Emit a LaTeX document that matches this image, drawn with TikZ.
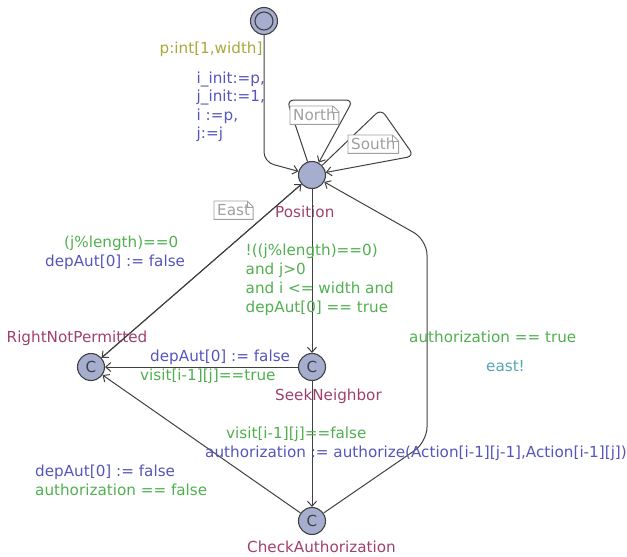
\documentclass[tikz,border=0pt]{standalone}
\usepackage{fontspec}
\setmainfont{DejaVu Sans}
\usetikzlibrary{arrows.meta}
\definecolor{guardc}{HTML}{50B050}
\definecolor{assignc}{HTML}{5555BB}
\definecolor{namec}{HTML}{A0406E}
\definecolor{selectc}{HTML}{A8A83A}
\definecolor{syncc}{HTML}{55A5B5}
\definecolor{notec}{HTML}{A0A0A0}
\definecolor{locfill}{HTML}{A6AED0}
\definecolor{linec}{HTML}{404040}
\newcommand{\drawnote}[1]{%
  \draw[notec, line width=0.9pt] (#1.south west) -- (#1.north west) -- ([xshift=-6pt]#1.north east)
    -- ([yshift=-6pt]#1.north east) -- (#1.south east) -- cycle;
  \draw[notec, line width=0.9pt] ([xshift=-6pt]#1.north east) -- ([xshift=-6pt,yshift=-6pt]#1.north east)
    -- ([yshift=-6pt]#1.north east);}
\begin{document}
\begin{tikzpicture}[x=1pt,y=-1pt,
  font=\fontsize{15.2}{19}\selectfont,
  loc/.style={circle,draw=linec,fill=locfill,text=linec,line width=1.1pt,minimum size=27pt,inner sep=0pt},
  edge/.style={draw=linec,line width=1pt,-{Straight Barb[length=5pt,width=9pt,line width=1pt]}},
  lbl/.style={anchor=base west,inner sep=0pt},
  guard/.style={lbl,text=guardc},
  assign/.style={lbl,text=assignc},
  lname/.style={lbl,text=namec},
  note/.style={text=notec,fill=white,inner xsep=3pt,inner ysep=2pt,minimum height=18pt,anchor=north west}]
\useasboundingbox (0,0) rectangle (627,557);

% locations
\node[loc] (init) at (264,21) {};
\node[circle,draw=linec,line width=1.1pt,minimum size=18pt,inner sep=0pt] (initin) at (264,21) {};
\node[loc] (pos) at (312,175) {};
\node[loc] (rnp) at (91,367) {C};
\node[loc] (seek) at (312,367) {C};
\node[loc] (cauth) at (312,521) {C};

% location names
\node[lname] (nPos) at (275,217) {Position};
\node[lname] (nRnp) at (6.5,342) {RightNotPermitted};
\node[lname] (nSeek) at (275,400) {SeekNeighbor};
\node[lname] (nCauth) at (247,552) {CheckAuthorization};

% bend points
\coordinate (b1) at (264,162);
\coordinate (n1) at (287,100);
\coordinate (n2) at (353,100);
\coordinate (s1) at (381,109);
\coordinate (s2) at (414,156);
\coordinate (c1) at (427,442);
\coordinate (c2) at (427,240);

% edges
\draw[edge,rounded corners=10pt] (init) -- (b1) -- (pos);
\draw[edge,rounded corners=7pt] (pos) -- (n1) -- (n2) -- (pos);
\draw[edge,rounded corners=7pt] (pos) -- (s1) -- (s2) -- (pos);
\draw[edge] (pos) -- (rnp);
\draw[edge] (rnp) -- (pos);
\draw[edge] (pos) -- (seek);
\draw[edge] (seek) -- (rnp);
\draw[edge] (seek) -- (cauth);
\draw[edge] (cauth) -- (rnp);
\draw[edge,rounded corners=15pt] (cauth) -- (c1) -- (c2) -- (pos);

% notes
\node[note] (tNorth) at (290,106) {North};
\drawnote{tNorth}
\node[note] (tSouth) at (348,135) {South};
\drawnote{tSouth}
\node[note] (tEast) at (214,201) {East};
\drawnote{tEast}

% initial edge labels
\node[lbl,text=selectc] (sel) at (159.5,53) {p:int[1,width]};
\node[assign] (a1) at (196.5,83) {i\_init:=p,};
\node[assign] (a2) at (196.5,101.5) {j\_init:=1,};
\node[assign] (a3) at (196.5,120) {i :=p,};
\node[assign] (a4) at (196.5,138.5) {j:=j};

% Position -> RightNotPermitted
\node[guard] (g1) at (64,247) {(j\%length)==0};
\node[assign] (u1) at (45,266) {depAut[0] := false};

% Position -> SeekNeighbor
\node[guard] (g2a) at (245.5,255) {!((j\%length)==0)};
\node[guard] (g2b) at (245.5,274) {and j>0};
\node[guard] (g2c) at (245.5,293) {and i <= width and};
\node[guard] (g2d) at (245.5,312) {depAut[0] == true};

% CheckAuthorization -> Position
\node[guard] (g3) at (409,342.5) {authorization == true};
\node[lbl,text=syncc] (sy3) at (486,371.5) {east!};

% SeekNeighbor -> RightNotPermitted
\node[assign] (u4) at (150,361.5) {depAut[0] := false};
\node[guard] (g4) at (140,380) {visit[i-1][j]==true};

% SeekNeighbor -> CheckAuthorization
\node[guard] (g5) at (226,438) {visit[i-1][j]==false};
\node[assign] (u5) at (205,457) {authorization := authorize(Action[i-1][j-1],Action[i-1][j])};

% CheckAuthorization -> RightNotPermitted
\node[assign] (u6) at (35,476.5) {depAut[0] := false};
\node[guard] (g6) at (35,495.5) {authorization == false};
\end{tikzpicture}
\end{document}
